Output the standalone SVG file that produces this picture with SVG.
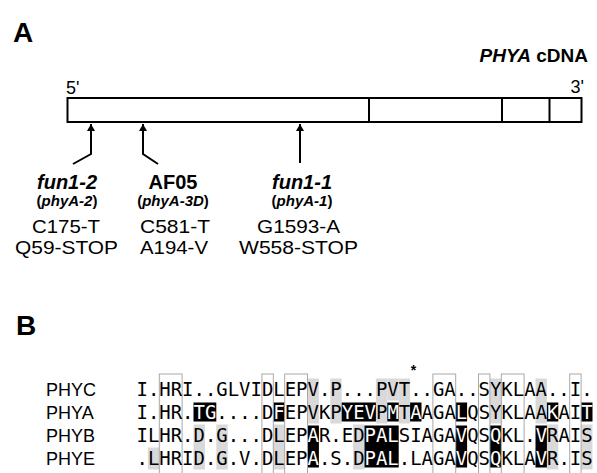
<svg xmlns="http://www.w3.org/2000/svg" width="597" height="473" viewBox="0 0 597 473">
<defs>
<marker id="ah" markerUnits="userSpaceOnUse" markerWidth="8" markerHeight="8" refX="7" refY="4" orient="auto"><path d="M0,0 L7,4 L0,8 z" fill="#000"/></marker>
</defs>
<style>
.sans{font-family:"Liberation Sans",Arial,sans-serif}
.hd{font-family:"Liberation Sans",Arial,sans-serif;font-weight:bold;font-size:28px}
.lb{font-family:"Liberation Sans",Arial,sans-serif;font-size:20px;text-anchor:middle}
.mu{font-family:"Liberation Sans",Arial,sans-serif;font-size:18.5px}
.bi{font-weight:bold;font-style:italic}
.sm{font-size:15px;font-weight:bold}
.seq{font-family:"DejaVu Sans Mono",monospace;font-size:18.95px}
.nm{font-family:"Liberation Sans",Arial,sans-serif;font-size:18px}
.w{fill:#fff}
.g{fill:#d9d9d9}
.k{fill:#000}
.ob{fill:none;stroke:#a8a8a8;stroke-width:1}
.ln{fill:none;stroke:#000;stroke-width:2}
</style>
<rect width="597" height="473" fill="#fff"/>

<!-- Panel A -->
<text class="hd" x="13" y="42">A</text>
<text class="sans" x="588" y="62" font-size="19" font-weight="bold" text-anchor="end"><tspan font-style="italic">PHYA</tspan> cDNA</text>

<g id="cdna-box">
<rect x="67.5" y="98" width="514" height="24" fill="#fff" stroke="#000" stroke-width="2"/>
<line x1="369" y1="98" x2="369" y2="122" stroke="#000" stroke-width="2"/>
<line x1="502" y1="98" x2="502" y2="122" stroke="#000" stroke-width="2"/>
<line x1="549.5" y1="98" x2="549.5" y2="122" stroke="#000" stroke-width="2"/>
<text class="sans" x="66" y="94" font-size="18">5'</text>
<text class="sans" x="584" y="93" font-size="18" text-anchor="end">3'</text>
</g>

<g id="connectors">
<polyline class="ln" points="73,164 91,154 91,124" marker-end="url(#ah)"/>
<polyline class="ln" points="158,164 143,154 143,124" marker-end="url(#ah)"/>
<polyline class="ln" points="300,163 300,124" marker-end="url(#ah)"/>
</g>

<g id="label-fun1-2">
<text class="lb bi" x="67" y="189">fun1-2</text>
<text class="lb sm" x="67" y="206">(<tspan font-style="italic">phyA-2</tspan>)</text>
<text class="mu" x="32" y="233" textLength="68" lengthAdjust="spacingAndGlyphs">C175-T</text>
<text class="mu" x="15" y="254" textLength="103" lengthAdjust="spacingAndGlyphs">Q59-STOP</text>
</g>
<g id="label-af05">
<text class="lb" x="173" y="189" font-weight="bold">AF05</text>
<text class="lb sm" x="173" y="206">(<tspan font-style="italic">phyA-3D</tspan>)</text>
<text class="mu" x="140" y="233" textLength="70" lengthAdjust="spacingAndGlyphs">C581-T</text>
<text class="mu" x="140" y="254" textLength="68" lengthAdjust="spacingAndGlyphs">A194-V</text>
</g>
<g id="label-fun1-1">
<text class="lb bi" x="302" y="189">fun1-1</text>
<text class="lb sm" x="302" y="206">(<tspan font-style="italic">phyA-1</tspan>)</text>
<text class="mu" x="257" y="233" textLength="83" lengthAdjust="spacingAndGlyphs">G1593-A</text>
<text class="mu" x="239" y="254" textLength="119" lengthAdjust="spacingAndGlyphs">W558-STOP</text>
</g>

<!-- Panel B -->
<text class="hd" x="16" y="335">B</text>

<g id="alignment">
<g class="g">
<rect x="147.9" y="447.5" width="11.4" height="22"/>
<rect x="193.5" y="424.5" width="11.4" height="45"/>
<rect x="216.3" y="424.5" width="11.4" height="45"/>
<rect x="273.3" y="424.5" width="11.4" height="45"/>
<rect x="307.5" y="378.5" width="11.4" height="45"/>
<rect x="330.3" y="378.5" width="11.4" height="45"/>
<rect x="353.1" y="424.5" width="11.4" height="45"/>
<rect x="375.9" y="378.5" width="11.4" height="45"/>
<rect x="387.3" y="378.5" width="11.4" height="22"/>
<rect x="398.7" y="378.5" width="11.4" height="45"/>
<rect x="489.9" y="378.5" width="11.4" height="45"/>
<rect x="535.5" y="378.5" width="11.4" height="45"/>
<rect x="546.9" y="424.5" width="11.4" height="45"/>
<rect x="581.1" y="424.5" width="11.4" height="45"/>
</g>
<g class="k">
<rect x="193.5" y="402.5" width="22.8" height="19"/>
<rect x="273.3" y="402.5" width="11.4" height="19"/>
<rect x="341.7" y="402.5" width="34.2" height="19"/>
<rect x="387.3" y="402.5" width="11.4" height="19"/>
<rect x="410.1" y="402.5" width="11.4" height="19"/>
<rect x="455.7" y="402.5" width="11.4" height="19"/>
<rect x="546.9" y="402.5" width="11.4" height="19"/>
<rect x="581.1" y="402.5" width="11.4" height="19"/>
<rect x="307.5" y="425.5" width="11.4" height="42"/>
<rect x="364.5" y="425.5" width="34.2" height="42"/>
<rect x="455.7" y="425.5" width="11.4" height="42"/>
<rect x="489.9" y="425.5" width="11.4" height="42"/>
<rect x="535.5" y="425.5" width="11.4" height="42"/>
</g>
<g class="ob">
<rect x="159.3" y="374" width="22.8" height="110"/>
<rect x="261.9" y="374" width="11.4" height="110"/>
<rect x="284.7" y="374" width="22.8" height="110"/>
<rect x="432.9" y="374" width="22.8" height="110"/>
<rect x="478.5" y="374" width="11.4" height="110"/>
<rect x="501.3" y="374" width="22.8" height="110"/>
<rect x="569.7" y="374" width="11.4" height="110"/>
</g>
<text class="sans" x="413.5" y="375" font-size="14" font-weight="bold" text-anchor="middle">*</text>

<g id="row-phyc">
<text class="nm" x="46" y="396">PHYC</text>
<text class="seq" x="136.5" y="395.5">I.HRI..GLVIDLEPV.P...PVT..GA..SYKLAA..I.</text>
</g>
<g id="row-phya">
<text class="nm" x="46" y="419">PHYA</text>
<text class="seq" x="136.5" y="418.5">I.HR.<tspan class="w">TG</tspan>....D<tspan class="w">F</tspan>EPVKP<tspan class="w">YEV</tspan>P<tspan class="w">M</tspan>T<tspan class="w">A</tspan>AGA<tspan class="w">L</tspan>QSYKLAA<tspan class="w">K</tspan>AI<tspan class="w">T</tspan></text>
</g>
<g id="row-phyb">
<text class="nm" x="46" y="442">PHYB</text>
<text class="seq" x="136.5" y="441.5">ILHR.D.G...DLEP<tspan class="w">A</tspan>R.ED<tspan class="w">PAL</tspan>SIAGA<tspan class="w">V</tspan>QS<tspan class="w">Q</tspan>KL.<tspan class="w">V</tspan>RAIS</text>
</g>
<g id="row-phye">
<text class="nm" x="46" y="465">PHYE</text>
<text class="seq" x="136.5" y="464.5">.LHRID.G.V.DLEP<tspan class="w">A</tspan>.S.D<tspan class="w">PAL</tspan>.LAGA<tspan class="w">V</tspan>QS<tspan class="w">Q</tspan>KLA<tspan class="w">V</tspan>R.IS</text>
</g>
</g>
</svg>
